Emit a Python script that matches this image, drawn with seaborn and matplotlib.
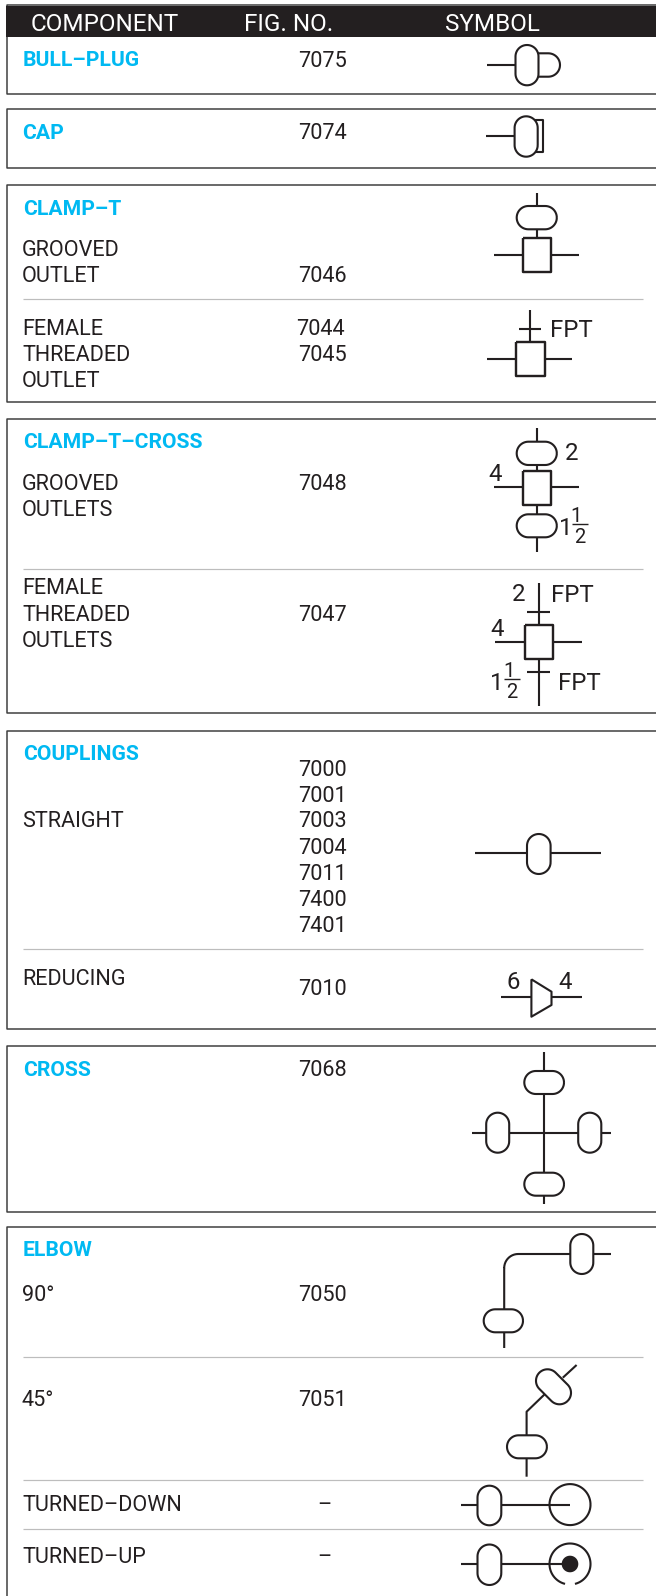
import numpy as np
import pandas as pd
import seaborn as sns
import matplotlib
matplotlib.use("Agg")
import matplotlib.pyplot as plt

# ---------- table content ----------
HEADERS = [("COMPONENT", 31), ("FIG. NO.", 244), ("SYMBOL", 445.5)]
GROUP_TITLES = [("BULL–PLUG", 23, 66), ("CAP", 22, 138.7), ("CLAMP–T", 23, 215),
                ("CLAMP–T–CROSS", 23, 448.3), ("COUPLINGS", 23, 760),
                ("CROSS", 23, 1076), ("ELBOW", 23, 1255.7)]
ROW_LABELS = [("GROOVED", 256), ("OUTLET", 282), ("FEMALE", 334.7), ("THREADED", 361), ("OUTLET", 386.7),
              ("GROOVED", 490), ("OUTLETS", 516), ("FEMALE", 594), ("THREADED", 621), ("OUTLETS", 646.7),
              ("STRAIGHT", 827.3), ("REDUCING", 985.3), ("90°", 1301.3), ("45°", 1406),
              ("TURNED–DOWN", 1511), ("TURNED–UP", 1562.7)]
FIG_NUMBERS = [("7075", 298, 66.7), ("7074", 298, 138.7), ("7046", 298, 282), ("7044", 296, 334.7),
               ("7045", 298, 361), ("7048", 298, 490), ("7047", 298, 621), ("7000", 298, 776),
               ("7001", 298, 801.7), ("7003", 298, 827.3), ("7004", 298, 854), ("7011", 298, 880),
               ("7400", 298, 906), ("7401", 298, 932), ("7010", 298, 995.3), ("7068", 298, 1076),
               ("7050", 298, 1301.3), ("7051", 298, 1406), ("–", 317, 1511), ("–", 317, 1563)]
SYMBOL_LABELS = [("FPT", 550, 336.7), ("2", 565, 459.5), ("4", 488.5, 481), ("1", 559, 535),
                 ("2", 512, 600.7), ("FPT", 551, 601.7), ("4", 490.5, 636), ("1", 490.5, 690),
                 ("FPT", 558.3, 690), ("6", 506.5, 989.3), ("4", 558.5, 989.3)]
FRACTIONS = [(571.7, 587.7, 524.3, 576, 521.7, 580, 543.3),
             (504.3, 520.3, 679.3, 509, 676.7, 512, 697.7)]
BOXES = [(5, 94), (109.3, 168.3), (185.3, 401.7), (419, 712.7), (730.7, 1029), (1046, 1211.7), (1226.7, 1600)]
SEPARATORS = [299, 568.7, 948.7, 1356.7, 1480.3, 1529.3]

# symbol geometry: capsules (x0, x1, y0, y1), pipes [(x, y), ...]
CAPSULES = [(515.5, 538.5, 45, 85.3), (514.6, 537.7, 116.3, 156.7), (516.7, 556.8, 206, 229.3),
            (516.7, 556.8, 441.7, 465), (516.7, 556.8, 514.3, 537.3), (527, 550.6, 834, 874),
            (524.3, 564, 1071, 1094), (524.3, 564, 1172.7, 1195.7), (486.2, 509.2, 1112.7, 1152.7),
            (578.2, 601.3, 1112.7, 1152.7), (570.3, 593.3, 1234, 1274), (483.7, 523, 1309.3, 1332.3),
            (507, 546.9, 1435.3, 1458.3), (477.5, 501.3, 1485.7, 1525.3), (477.5, 501.3, 1544.5, 1585)]
TILTED = [(553.5, 1386.8, 40, 23, 45)]
RECTS = [(523, 551, 238, 272), (516.3, 544.8, 342.3, 376), (523, 551, 470.7, 504.7), (524.7, 553, 625, 659.3)]
PIPES = [
    [(487.4, 65), (516, 65)],
    [(486, 136.3), (515, 136.3)],
    [(528, 120), (543.3, 120), (543.3, 152.3), (528, 152.3)],
    [(536.8, 193.3), (536.8, 238)], [(493.7, 254.7), (523, 254.7)], [(551, 254.7), (579, 254.7)],
    [(530, 310), (530, 342.3)], [(518.8, 328.7), (541, 328.7)], [(487.4, 358.7), (516.3, 358.7)], [(544.8, 358.7), (572.4, 358.7)],
    [(536.8, 428.3), (536.8, 551.7)], [(493.7, 487.3), (523, 487.3)], [(551, 487.3), (579, 487.3)],
    [(539, 583.3), (539, 625)], [(527, 612), (550, 612)], [(495.4, 641.7), (524.7, 641.7)], [(553, 641.7), (581.6, 641.7)],
    [(539, 659.3), (539, 706)], [(527, 672.3), (550, 672.3)],
    [(474.5, 853.3), (600.8, 853.3)],
    [(500.8, 997.3), (531.4, 997.3)], [(551.5, 997.3), (582.4, 997.3)],
    [(531.4, 979.3), (551.5, 991.7), (551.5, 1005), (531.4, 1016.7), (531.4, 979.3)],
    [(544, 1051.7), (544, 1204)], [(472, 1132.7), (611.3, 1132.7)],
    [(504.2, 1348), (504.2, 1268)] + [(518.2 - 14 * np.cos(a), 1268 - 14 * np.sin(a)) for a in np.linspace(0, np.pi / 2, 12)] + [(611, 1254)],
    [(526.6, 1476.7), (526.6, 1411.7), (546, 1393)], [(562.8, 1377.7), (576.6, 1365)],
    [(461, 1504.6), (570, 1504.6)], [(461, 1564), (570, 1564)],
]
BULLPLUG_NOSE = (528, 548.3, 53.3, 76.7)
CIRCLES = [(570, 1504.6, 20.5)]
OPEN_CIRCLE = (570, 1564, 20.5, 14)
DOT = (570, 1564, 8.3)

# ---------- drawing ----------
INK, GREY, EDGE, CYAN = "#231f20", "#bdbdbd", "#3c3c3c", "#00b9f2"
sns.set_theme(style="white")
plt.rcParams["font.family"] = ["Roboto", "DejaVu Sans"]
PX = 0.72  # points per pixel at 100 dpi


def capsule(x0, x1, y0, y1, n=14):
    w, h = x1 - x0, y1 - y0
    r = min(w, h) / 2
    t = np.linspace(0, np.pi / 2, n)
    pts = []
    for cx, cy, a0 in [(x1 - r, y1 - r, 0), (x0 + r, y1 - r, np.pi / 2),
                       (x0 + r, y0 + r, np.pi), (x1 - r, y0 + r, 3 * np.pi / 2)]:
        pts += [(cx + r * np.cos(a0 + v), cy + r * np.sin(a0 + v)) for v in t]
    pts.append(pts[0])
    return np.array(pts)


def to_frame(paths):
    return pd.DataFrame([{"x": x, "y": y, "path": i, "order": j}
                         for i, p in enumerate(paths) for j, (x, y) in enumerate(p)])


def draw(ax, paths, color, width, zorder=2):
    sns.lineplot(data=to_frame(paths), x="x", y="y", units="path", estimator=None, sort=False,
                 color=color, linewidth=width * PX, zorder=zorder, ax=ax, legend=False,
                 solid_capstyle="butt", solid_joinstyle="round")


fig = plt.figure(figsize=(6.56, 15.96), dpi=100)
ax = fig.add_axes([0, 0, 1, 1])

# table frames
frames = [[(656, t), (6.5, t), (6.5, b), (656, b)] for t, b in BOXES]
draw(ax, frames, EDGE, 1.5)
draw(ax, [[(23, y), (643, y)] for y in SEPARATORS], GREY, 1.2)
ax.fill([6, 656, 656, 6], [5.5, 5.5, 36.7, 36.7], color="#231f20", zorder=3, lw=0)

# pipes
nose_x0, nose_x1, nose_y0, nose_y1 = BULLPLUG_NOSE
r_nose = (nose_y1 - nose_y0) / 2
nose = [(nose_x0, nose_y0)] + [(nose_x1 + r_nose * np.sin(a), (nose_y0 + nose_y1) / 2 - r_nose * np.cos(a))
                               for a in np.linspace(0, np.pi, 24)] + [(nose_x0, nose_y1)]
draw(ax, PIPES + [nose], INK, 2.1, zorder=2)

# fittings
boxes = [np.array([(x0, y0), (x1, y0), (x1, y1), (x0, y1), (x0, y0)]) for x0, x1, y0, y1 in RECTS]
outlines = [capsule(*c) for c in CAPSULES]
for cx, cy, length, width, ang in TILTED:
    p = capsule(-length / 2, length / 2, -width / 2, width / 2)
    a = np.radians(ang)
    outlines.append(np.c_[cx + p[:, 0] * np.cos(a) - p[:, 1] * np.sin(a),
                          cy + p[:, 0] * np.sin(a) + p[:, 1] * np.cos(a)])
for o in boxes + outlines:
    ax.fill(o[:, 0], o[:, 1], color="white", lw=0, zorder=3)
circ = []
for cx, cy, r in CIRCLES:
    t = np.linspace(0, 2 * np.pi, 90)
    circ.append(np.c_[cx + r * np.cos(t), cy + r * np.sin(t)])
cx, cy, r, gap = OPEN_CIRCLE
t = np.radians(np.linspace(90 + gap, 450 - gap, 90))
circ.append(np.c_[cx + r * np.cos(t), cy + r * np.sin(t)])
draw(ax, outlines + circ, INK, 2.1, zorder=4)
draw(ax, boxes, INK, 2.4, zorder=4)
cx, cy, r = DOT
t = np.linspace(0, 2 * np.pi, 60)
ax.fill(cx + r * np.cos(t), cy + r * np.sin(t), color=INK, lw=0, zorder=5)

# text
BODY, BIG = 15.6, 17.3
for s, x in HEADERS:
    ax.text(x, 31, s, color="white", fontsize=17.5, va="baseline", zorder=6)
for s, x, y in GROUP_TITLES:
    ax.text(x, y, s, color=CYAN, fontsize=15.2, fontweight="bold", va="baseline", zorder=6)
for s, y in ROW_LABELS:
    ax.text(22, y, s, color=INK, fontsize=BODY, va="baseline", zorder=6)
for s, x, y in FIG_NUMBERS:
    ax.text(x, y, s, color=INK, fontsize=BODY, va="baseline", zorder=6)
for s, x, y in SYMBOL_LABELS:
    ax.text(x, y, s, color=INK, fontsize=BIG, va="baseline", zorder=6)
for x0, x1, ybar, xn, yn, xd, yd in FRACTIONS:
    draw(ax, [[(x0, ybar), (x1, ybar)]], INK, 1.4, zorder=6)
    ax.text(xn, yn, "1", color=INK, fontsize=14.5, ha="center", va="baseline", zorder=6)
    ax.text(xd, yd, "2", color=INK, fontsize=14.5, ha="center", va="baseline", zorder=6)

ax.set_xlim(0, 656)
ax.set_ylim(1596, 0)
ax.set_xlabel("")
ax.set_ylabel("")
ax.axis("off")
fig.savefig("out.png", dpi=100, facecolor="white")
